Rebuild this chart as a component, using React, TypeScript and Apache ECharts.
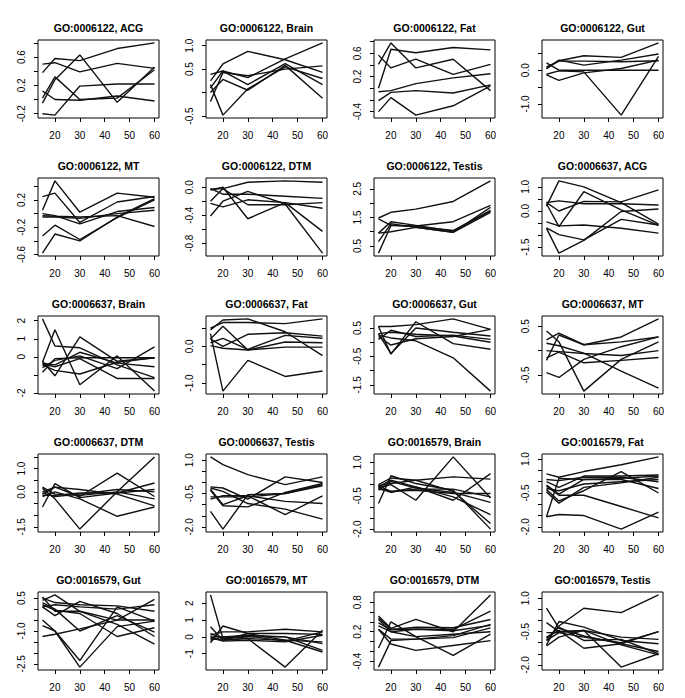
import React, { useEffect, useRef } from "react";
import * as echarts from "echarts";

// x positions (time points) and x tick labels
const X = [15, 20, 30, 45, 60];
const X_TICKS = [20, 30, 40, 50, 60];

// ---- series values, one array per panel, one row per line ----
const go6122_ACG = [
  [0.38, 0.58, 0.55, 0.72, 0.80],
  [0.50, 0.52, 0.39, 0.51, 0.44],
  [-0.05, 0.28, 0.63, -0.04, 0.46],
  [0.02, 0.32, 0.0, 0.02, 0.42],
  [0.12, 0.0, -0.01, 0.05, -0.02],
  [-0.20, -0.22, 0.19, 0.22, 0.22],
];
const go6122_Brain = [
  [0.25, 0.61, 0.88, 0.70, 0.43],
  [0.39, 0.46, 0.32, 0.72, 1.06],
  [0.17, -0.48, 0.08, 0.55, 0.30],
  [0.0, 0.28, 0.05, 0.58, -0.12],
  [-0.19, 0.43, 0.36, 0.50, 0.57],
  [0.10, 0.46, 0.17, 0.62, 0.17],
];
const go6122_Fat = [
  [0.41, 0.78, 0.35, 0.50, -0.04],
  [0.0, 0.67, 0.61, 0.70, 0.66],
  [0.57, 0.35, 0.50, 0.24, 0.41],
  [-0.06, -0.04, 0.08, 0.18, 0.25],
  [-0.21, -0.07, -0.04, -0.08, 0.06],
  [-0.40, -0.16, -0.46, -0.30, 0.04],
];
const go6122_Gut = [
  [0.05, 0.28, 0.43, 0.38, 0.81],
  [0.22, 0.0, 0.0, 0.0, 0.0],
  [-0.12, -0.02, -0.05, -1.33, 0.41],
  [-0.14, -0.30, -0.08, 0.05, 0.30],
  [0.05, 0.30, 0.15, 0.30, 0.48],
  [0.10, 0.27, 0.27, 0.25, 0.28],
];
const go6122_MT = [
  [0.05, 0.48, 0.02, 0.30, 0.24],
  [0.25, 0.30, -0.13, 0.17, 0.25],
  [0.0, -0.03, -0.15, 0.03, 0.09],
  [-0.03, -0.04, -0.05, -0.03, -0.19],
  [-0.05, -0.05, -0.07, 0.0, 0.05],
  [-0.33, -0.17, -0.38, -0.06, 0.20],
  [-0.58, -0.30, -0.40, -0.05, 0.22],
];
const go6122_DTM = [
  [-0.03, -0.02, 0.07, 0.09, 0.07],
  [-0.02, -0.10, -0.10, -0.13, -0.16],
  [-0.20, -0.02, -0.25, -0.25, -0.22],
  [-0.41, -0.20, -0.06, -0.24, -0.94],
  [-0.23, -0.28, -0.18, -0.22, -0.30],
  [-0.04, 0.0, -0.45, -0.22, -0.63],
];
const go6122_Testis = [
  [1.48, 1.68, 1.79, 2.06, 2.78],
  [1.45, 1.22, 1.20, 1.35, 1.92],
  [0.95, 1.00, 1.15, 0.98, 1.85],
  [0.95, 1.35, 1.22, 1.02, 1.72],
  [0.65, 1.28, 1.15, 0.98, 1.68],
  [0.25, 1.22, 1.18, 1.04, 1.75],
];
const go6637_ACG = [
  [0.20, 1.25, 1.00, 0.35, -0.55],
  [0.30, -0.65, 0.80, 0.05, -0.60],
  [0.35, 0.42, 0.30, 0.30, 0.25],
  [0.35, 0.0, 0.40, 0.38, 0.88],
  [-0.45, -0.62, -0.58, -0.72, -0.92],
  [-0.70, -0.98, -1.20, -0.35, -0.58],
  [-0.72, -1.75, -1.22, -0.02, 0.08],
];
const go6637_Brain = [
  [2.10, 0.60, 0.50, -0.45, -1.15],
  [-0.30, 1.50, -1.55, 0.05, -1.90],
  [-0.25, -1.05, 1.10, -0.25, -0.05],
  [-0.85, -0.10, -0.05, -0.05, -0.05],
  [-0.45, -0.75, -0.95, -0.30, -0.05],
  [-0.35, -0.45, 0.25, -0.35, -0.55],
  [-0.60, -0.20, 0.05, -0.65, 0.55],
  [-0.40, -0.55, -0.10, -1.20, -1.20],
];
const go6637_Fat = [
  [0.45, 0.72, 0.75, 0.40, -0.25],
  [0.50, 0.65, 0.65, 0.62, 0.75],
  [0.35, -1.22, -0.38, -0.82, -0.67],
  [0.20, 0.55, -0.10, 0.12, 0.10],
  [0.20, 0.0, 0.33, 0.37, 0.28],
  [0.10, 0.22, -0.08, 0.30, 0.22],
  [0.02, -0.05, -0.10, -0.02, -0.02],
];
const go6637_Gut = [
  [0.55, -0.42, 0.72, -0.05, -0.25],
  [0.55, 0.55, 0.62, 0.82, 0.45],
  [0.25, 0.15, 0.05, -0.55, -1.72],
  [0.30, -0.40, 0.50, 0.35, 0.22],
  [0.10, 0.42, 0.20, 0.25, 0.10],
  [0.20, -0.10, 0.12, 0.20, 0.45],
  [0.30, 0.35, 0.28, 0.22, 0.0],
];
const go6637_MT = [
  [-0.20, 0.32, 0.12, 0.28, 0.65],
  [0.22, 0.36, 0.12, 0.18, 0.28],
  [0.40, 0.18, -0.83, -0.18, 0.18],
  [0.0, -0.02, -0.06, -0.10, 0.0],
  [-0.15, -0.03, -0.25, -0.20, -0.14],
  [-0.45, -0.55, -0.18, 0.08, 0.28],
  [0.15, 0.10, -0.05, -0.42, -0.77],
];
const go6637_DTM = [
  [-0.65, 0.35, -0.25, -0.05, 0.38],
  [0.15, -0.30, -1.60, 0.0, 1.50],
  [-0.10, 0.20, -0.20, 0.80, -0.20],
  [0.0, 0.20, 0.10, -0.10, -0.60],
  [-0.15, -0.15, -0.05, -0.05, 0.10],
  [-0.20, 0.0, -0.30, -1.05, -0.65],
  [0.20, -0.10, -0.15, 0.0, -0.30],
  [-0.05, -0.20, -0.10, 0.10, 0.0],
];
const go6637_Testis = [
  [1.15, 0.80, 0.35, -0.10, 0.25],
  [-0.20, -0.25, -0.75, 0.25, 0.0],
  [-0.35, -1.05, -1.10, -0.45, -0.05],
  [-0.30, -1.00, -0.60, -0.85, -0.95],
  [-1.30, -2.10, -0.55, -0.50, -0.10],
  [-0.75, -0.60, -0.60, -1.45, -0.60],
  [-0.25, -0.40, -0.95, -1.20, -1.65],
  [-0.65, -0.65, -0.65, -0.50, -0.15],
];
const go16579_Brain = [
  [-0.85, 0.40, 0.05, -0.25, -2.00],
  [0.0, 0.30, 0.20, -0.30, -1.75],
  [-0.15, 0.0, -0.70, 1.25, -0.60],
  [-0.15, -0.35, -0.10, -0.70, 0.50],
  [-0.05, 0.05, 0.20, 0.35, 0.25],
  [-0.20, -0.30, -0.25, -0.40, -0.40],
  [-0.10, 0.20, -0.10, -0.55, -1.35],
  [-0.25, 0.15, -0.15, -0.35, -0.80],
  [-0.05, -0.30, -0.20, -0.20, -0.55],
];
const go16579_Fat = [
  [0.35, 0.20, 0.45, 0.75, 1.10],
  [0.10, 0.05, 0.20, 0.20, 0.0],
  [0.0, -0.25, 0.25, 0.25, 0.30],
  [-0.15, -0.55, 0.10, 0.10, -0.30],
  [-0.35, -0.85, -0.40, 0.45, -0.50],
  [-0.45, -0.95, -0.25, -0.05, 0.20],
  [-1.55, 0.15, 0.10, 0.15, 0.25],
  [-1.55, -1.45, -1.50, -2.10, -1.35],
  [-0.20, -0.60, -0.60, -1.10, -1.60],
  [-0.30, -0.40, -0.10, 0.0, 0.10],
];
const go16579_Gut = [
  [0.55, -0.10, -0.10, -0.50, 0.45],
  [0.40, 0.65, -0.10, -0.70, -1.60],
  [0.10, -0.30, 0.35, -0.20, -1.25],
  [-0.50, -1.00, -2.35, 0.10, -0.55],
  [-0.75, -1.00, -2.65, -0.80, -0.55],
  [-1.25, -1.15, -0.90, -0.50, -0.50],
  [0.30, 0.0, -1.00, -0.30, -1.05],
  [0.10, 0.20, 0.10, 0.0, 0.20],
  [0.50, 0.30, 0.20, 0.15, -0.10],
  [0.20, -0.05, -0.20, -1.25, -0.85],
];
const go16579_MT = [
  [2.50, -0.10, 0.05, -0.25, 0.30],
  [0.60, -0.20, 0.20, 0.20, 0.15],
  [-0.35, 0.65, 0.20, -0.20, -0.90],
  [0.0, 0.0, -0.10, -1.80, 0.40],
  [0.10, 0.30, 0.30, 0.45, 0.30],
  [-0.10, -0.20, -0.10, -0.20, -0.30],
  [0.20, -0.10, 0.0, 0.0, -0.80],
  [0.0, -0.25, -0.20, -0.30, 0.10],
  [-0.20, 0.0, 0.10, 0.0, -0.40],
];
const go16579_DTM = [
  [-0.52, 0.02, 0.05, 0.08, 0.28],
  [-0.13, 0.40, 0.10, -0.28, 0.15],
  [0.52, 0.27, 0.45, 0.20, 0.95],
  [0.48, 0.25, 0.25, 0.25, 0.62],
  [0.38, 0.24, 0.29, 0.28, 0.45],
  [0.25, -0.05, -0.18, -0.08, 0.02],
  [0.25, 0.05, 0.05, 0.12, 0.35],
  [0.32, 0.20, 0.25, 0.22, 0.33],
  [0.45, 0.20, 0.10, 0.15, 0.20],
];
const go16579_Testis = [
  [-0.90, -0.25, 0.55, 0.35, 1.15],
  [0.55, -0.35, -0.70, -1.05, -1.40],
  [-0.10, -0.50, -0.45, -1.10, -1.55],
  [-0.55, -0.55, -0.75, -1.00, -0.50],
  [-1.10, -0.05, -0.30, -0.90, -1.05],
  [-1.15, -0.75, -0.45, -0.75, -0.85],
  [-0.90, -0.55, -0.45, -2.10, -1.50],
  [-0.75, -0.45, -1.25, -1.05, -0.50],
  [-0.80, -0.30, -0.90, -0.85, -1.50],
];

// ---- panel titles ----
const TITLES = [
  "GO:0006122, ACG", "GO:0006122, Brain", "GO:0006122, Fat", "GO:0006122, Gut",
  "GO:0006122, MT", "GO:0006122, DTM", "GO:0006122, Testis", "GO:0006637, ACG",
  "GO:0006637, Brain", "GO:0006637, Fat", "GO:0006637, Gut", "GO:0006637, MT",
  "GO:0006637, DTM", "GO:0006637, Testis", "GO:0016579, Brain", "GO:0016579, Fat",
  "GO:0016579, Gut", "GO:0016579, MT", "GO:0016579, DTM", "GO:0016579, Testis",
];

const PANEL_DATA = [
  go6122_ACG, go6122_Brain, go6122_Fat, go6122_Gut,
  go6122_MT, go6122_DTM, go6122_Testis, go6637_ACG,
  go6637_Brain, go6637_Fat, go6637_Gut, go6637_MT,
  go6637_DTM, go6637_Testis, go16579_Brain, go16579_Fat,
  go16579_Gut, go16579_MT, go16579_DTM, go16579_Testis,
];

// ---- y tick positions and the tick labels that are printed ----
const Y_TICKS = [
  [-0.2, 0, 0.2, 0.4, 0.6, 0.8], [-0.5, 0, 0.5, 1.0], [-0.4, -0.2, 0, 0.2, 0.4, 0.6, 0.8], [-1.0, -0.5, 0, 0.5],
  [-0.6, -0.4, -0.2, 0, 0.2, 0.4], [-0.8, -0.6, -0.4, -0.2, 0], [0.5, 1.0, 1.5, 2.0, 2.5], [-1.5, -1.0, -0.5, 0, 0.5, 1.0],
  [-2, -1, 0, 1, 2], [-1.0, -0.5, 0, 0.5], [-1.5, -1.0, -0.5, 0, 0.5], [-0.5, 0, 0.5],
  [-1.5, -1.0, -0.5, 0, 0.5, 1.0, 1.5], [-2.0, -1.5, -1.0, -0.5, 0, 0.5, 1.0], [-2.0, -1.5, -1.0, -0.5, 0, 0.5, 1.0], [-2.0, -1.5, -1.0, -0.5, 0, 0.5, 1.0],
  [-2.5, -2.0, -1.5, -1.0, -0.5, 0, 0.5], [-1, 0, 1, 2], [-0.4, -0.2, 0, 0.2, 0.4, 0.6, 0.8], [-2.0, -1.5, -1.0, -0.5, 0, 0.5, 1.0],
];
const Y_LABELS = [
  ["-0.2", "0.2", "0.6"], ["-0.5", "0.5", "1.0"], ["-0.4", "0.2", "0.6"], ["-1.0", "0.0"],
  ["-0.6", "-0.2", "0.2"], ["-0.8", "-0.4", "0.0"], ["0.5", "1.5", "2.5"], ["-1.5", "0.0", "1.0"],
  ["-2", "0", "1", "2"], ["-1.0", "0.0"], ["-1.5", "-0.5", "0.5"], ["-0.5", "0.5"],
  ["-1.5", "0.0", "1.0"], ["-2.0", "-0.5", "1.0"], ["-2.0", "-0.5", "1.0"], ["-2.0", "-0.5", "1.0"],
  ["-2.5", "-1.0", "0.5"], ["-1", "0", "1", "2"], ["-0.4", "0.2", "0.8"], ["-2.0", "-0.5", "1.0"],
];

// ---- layout ----
const COL_LEFT0 = 38;
const COL_STEP = 168;
const BOX_W = 121;
const ROW_TOP0 = 40;
const ROW_STEP = 138;
const BOX_H = 78;
const FONT = '"Liberation Sans", Arial, Helvetica, sans-serif';

function buildOption() {
  const grid: any[] = [];
  const xAxis: any[] = [];
  const yAxis: any[] = [];
  const series: any[] = [];
  const graphic: any[] = [];
  const xmin = Math.min(...X), xmax = Math.max(...X);
  const xpad = (xmax - xmin) * 0.04;

  PANEL_DATA.forEach((lines, i) => {
    const r = Math.floor(i / 4), c = i % 4;
    const left = COL_LEFT0 + COL_STEP * c;
    const top = ROW_TOP0 + ROW_STEP * r;
    grid.push({
      left, top, width: BOX_W, height: BOX_H,
      show: true, borderColor: "#000", borderWidth: 1, backgroundColor: "transparent",
      containLabel: false,
    });
    xAxis.push({
      type: "value", gridIndex: i, position: "bottom", min: xmin - xpad, max: xmax + xpad,
      axisLine: { show: false, onZero: false },
      splitLine: { show: false },
      axisTick: { show: true, length: 4, lineStyle: { color: "#000", width: 1 }, customValues: X_TICKS },
      axisLabel: {
        show: true, customValues: X_TICKS, margin: 12, color: "#000",
        fontSize: 10, fontFamily: FONT, formatter: (v: number) => String(v),
      },
    });
    const all = lines.flat();
    const dmin = Math.min(...all), dmax = Math.max(...all);
    const ypad = (dmax - dmin) * 0.04;
    const ymin = dmin - ypad, ymax = dmax + ypad;
    const ticks = Y_TICKS[i].filter((t) => t >= ymin && t <= ymax);
    const labs = Y_LABELS[i];
    const labVals = labs.map(Number);
    yAxis.push({
      type: "value", gridIndex: i, position: "left", min: ymin, max: ymax,
      axisLine: { show: false, onZero: false },
      splitLine: { show: false },
      axisTick: { show: true, length: 4, lineStyle: { color: "#000", width: 1 }, customValues: ticks },
      axisLabel: {
        show: true, customValues: labVals, rotate: 90, margin: 12, color: "#000",
        fontSize: 10, fontFamily: FONT,
        formatter: (v: number) => {
          const k = labVals.findIndex((t) => Math.abs(t - v) < 1e-9);
          return k >= 0 ? labs[k] : "";
        },
      },
    });
    lines.forEach((vals) => {
      series.push({
        type: "line", xAxisIndex: i, yAxisIndex: i,
        data: X.map((x, k) => [x, vals[k]]),
        symbol: "none", silent: true,
        lineStyle: { color: "#111", width: 1.4 },
      });
    });
    graphic.push({
      type: "text", x: left + BOX_W / 2, y: top - 12,
      style: {
        text: TITLES[i], fill: "#000", fontSize: 10.5, fontWeight: "bold", fontFamily: FONT,
        align: "center", verticalAlign: "middle", textAlign: "center", textVerticalAlign: "middle",
      },
    });
  });

  return { animation: false, backgroundColor: "#fff", grid, xAxis, yAxis, series, graphic };
}

export default function App() {
  const ref = useRef<HTMLDivElement>(null);
  useEffect(() => {
    if (!ref.current) return;
    const chart = echarts.init(ref.current, undefined, { renderer: "svg" });
    chart.setOption(buildOption() as any);
    return () => chart.dispose();
  }, []);
  return (
    <div
      ref={ref}
      style={{ position: "fixed", left: 0, top: 0, width: 685, height: 698, background: "#fff" }}
    />
  );
}
